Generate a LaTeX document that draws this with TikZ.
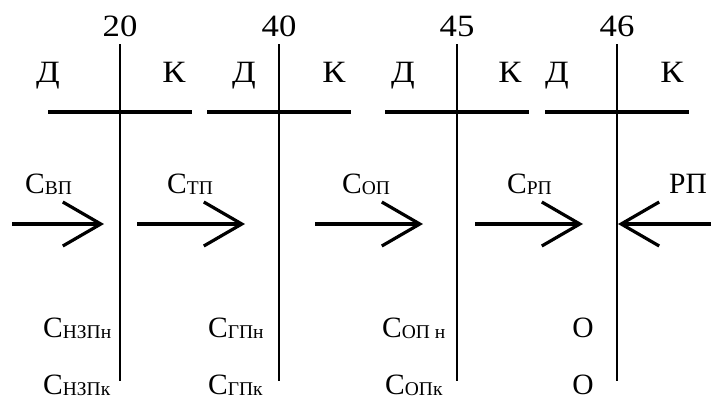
\documentclass[tikz,border=0pt]{standalone}
\usepackage{fontspec}
\usepackage{graphicx}
\setmainfont{Liberation Serif}
\usetikzlibrary{arrows.meta}
\newcommand\Cs[1]{С{\fontsize{19.5}{20}\selectfont\raisebox{-1.5pt}{#1}}}
\newcommand\wide[1]{\scalebox{1.12}[1]{#1}}
\tikzset{
  txt/.style={inner sep=0pt,font=\fontsize{29.5}{32}\selectfont},
  head/.style={inner sep=0pt,font=\fontsize{31}{34}\selectfont},
  tline/.style={line width=4pt},
  vline/.style={line width=1.8pt},
  flow/.style={line width=3.2pt,-{Straight Barb[length=38pt,width=44pt]}},
}
\begin{document}
\begin{tikzpicture}[x=1pt,y=-1pt]
  \useasboundingbox (0,0) rectangle (711,399);
  % счета 20, 40, 45, 46
  \foreach \n/\x/\d/\k in {20/120/48/174,40/279/244/334,45/457/403/510,46/617/557/672}{
    \node[head,anchor=base] (n\n) at (\x,36) {\wide{\n}};
    \node[head,anchor=base] (d\n) at (\d,82) {\wide{Д}};
    \node[head,anchor=base] (k\n) at (\k,82) {\wide{К}};
    \draw[vline] (\x,44) -- (\x,381);
    \draw[tline] (\x-72,112) -- (\x+72,112);
  }
  % стрелки
  \coordinate (s1) at (12,224);  \coordinate (e1) at (104,224);
  \coordinate (s2) at (137,224); \coordinate (e2) at (245,224);
  \coordinate (s3) at (315,224); \coordinate (e3) at (423,224);
  \coordinate (s4) at (475,224); \coordinate (e4) at (583,224);
  \coordinate (s5) at (711,224); \coordinate (e5) at (618,224);
  \foreach \i in {1,...,5}
    \draw[flow] (s\i) -- (e\i);
  % подписи к стрелкам
  \node[txt,anchor=base west] (cvp) at (25,193) {\Cs{ВП}};
  \node[txt,anchor=base west] (ctp) at (167,193) {\Cs{ТП}};
  \node[txt,anchor=base west] (cop) at (342,193) {\Cs{ОП}};
  \node[txt,anchor=base west] (crp) at (507,193) {\Cs{РП}};
  \node[txt,anchor=base west] (rp) at (669,193) {РП};
  % сальдо
  \node[txt,anchor=base west] (nzpn) at (43,337) {\Cs{НЗПн}};
  \node[txt,anchor=base west] (nzpk) at (43,394) {\Cs{НЗПк}};
  \node[txt,anchor=base west] (gpn) at (208,337) {\Cs{ГПн}};
  \node[txt,anchor=base west] (gpk) at (208,394) {\Cs{ГПк}};
  \node[txt,anchor=base west] (opn) at (382,337) {\Cs{ОП н}};
  \node[txt,anchor=base west] (opk) at (385,394) {\Cs{ОПк}};
  \node[txt,anchor=base] (on) at (583,337) {О};
  \node[txt,anchor=base] (ok) at (583,394) {О};
\end{tikzpicture}
\end{document}
